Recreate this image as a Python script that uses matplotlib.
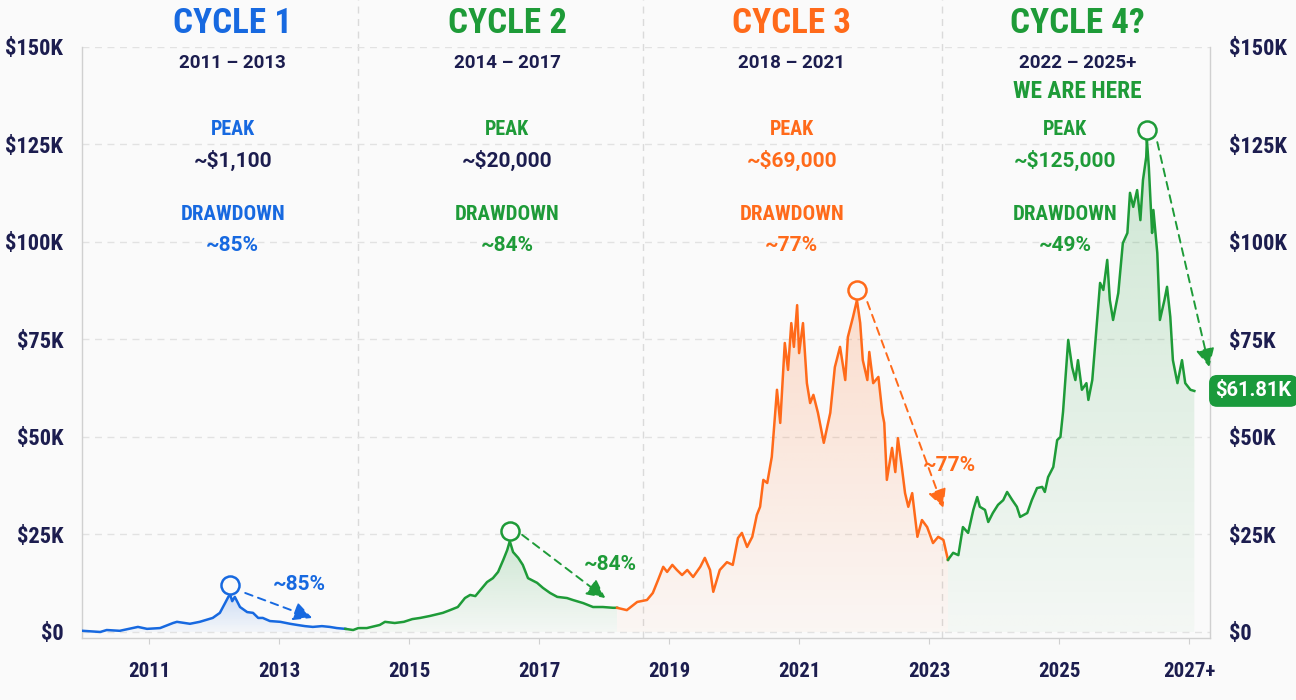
import matplotlib
matplotlib.use("Agg")
import matplotlib.pyplot as plt
import matplotlib.transforms as mtransforms
from matplotlib import font_manager
from matplotlib.colors import to_rgb
import numpy as np

    #========= DATA (price in $K, time in decimal years) =================#

CYCLE1_YEARS = [2009.98, 2010.25, 2010.35, 2010.55, 2010.83, 2010.97, 2011.17, 2011.37, 2011.43,
                2011.63, 2011.78, 2011.98, 2012.09, 2012.17, 2012.22, 2012.25, 2012.28, 2012.32,
                2012.40, 2012.51, 2012.60, 2012.68, 2012.75, 2012.86, 2013.02, 2013.17, 2013.28,
                2013.40, 2013.52, 2013.66, 2013.78, 2013.89, 2014.02]
CYCLE1_PRICES = [0.3, 0.0, 0.5, 0.3, 1.3, 0.8, 1.0, 2.3, 2.6, 2.1, 2.6, 3.6, 4.9, 7.4, 9.0, 9.5,
                 7.9, 9.0, 6.4, 5.1, 4.9, 3.6, 3.6, 2.8, 2.6, 2.1, 1.8, 1.5, 1.3, 1.5, 1.3, 1.0, 0.8]

CYCLE2_YEARS = [2014.02, 2014.14, 2014.22, 2014.35, 2014.55, 2014.63, 2014.78, 2014.92, 2015.05,
                2015.17, 2015.32, 2015.52, 2015.63, 2015.75, 2015.86, 2015.94, 2016.02, 2016.11,
                2016.20, 2016.29, 2016.37, 2016.45, 2016.51, 2016.55, 2016.60, 2016.68, 2016.75,
                2016.83, 2016.97, 2017.06, 2017.17, 2017.28, 2017.43, 2017.52, 2017.68, 2017.83,
                2017.98, 2018.14, 2018.20]
CYCLE2_PRICES = [0.8, 0.5, 1.0, 1.0, 1.8, 2.6, 2.3, 2.6, 3.3, 3.6, 4.1, 4.9, 5.6, 6.4, 8.7, 9.5,
                 9.2, 11.0, 12.8, 13.8, 15.4, 18.5, 21.0, 23.3, 20.5, 19.0, 17.2, 13.8, 12.6, 11.3,
                 10.0, 9.0, 8.7, 8.2, 7.4, 6.4, 6.4, 6.2, 6.2]

CYCLE3_YEARS = [2018.20, 2018.35, 2018.51, 2018.66, 2018.75, 2018.83, 2018.91, 2018.97, 2019.05,
                2019.12, 2019.20, 2019.28, 2019.37, 2019.48, 2019.55, 2019.63, 2019.68, 2019.78,
                2019.89, 2019.98, 2020.06, 2020.12, 2020.20, 2020.28, 2020.35, 2020.40, 2020.45,
                2020.51, 2020.58, 2020.66, 2020.71, 2020.78, 2020.83, 2020.88, 2020.92, 2020.97,
                2021.00, 2021.06, 2021.12, 2021.17, 2021.22, 2021.29, 2021.38, 2021.48, 2021.55,
                2021.63, 2021.71, 2021.75, 2021.83, 2021.89, 2021.94, 2021.98, 2022.05, 2022.08,
                2022.14, 2022.22, 2022.28, 2022.31, 2022.35, 2022.43, 2022.48, 2022.52, 2022.58,
                2022.63, 2022.68, 2022.74, 2022.82, 2022.89, 2022.97, 2023.06, 2023.14, 2023.22,
                2023.29]
CYCLE3_PRICES = [6.2, 5.6, 7.7, 8.2, 10.0, 13.3, 16.7, 15.4, 17.2, 15.9, 14.6, 15.9, 14.1, 16.7,
                 19.0, 15.9, 10.3, 15.9, 17.9, 17.2, 24.1, 25.4, 21.8, 24.4, 30.0, 32.1, 39.0, 38.2,
                 44.9, 62.1, 53.6, 74.1, 67.2, 79.2, 73.1, 83.8, 71.5, 79.2, 63.8, 58.7, 60.8, 56.2,
                 48.5, 56.2, 67.9, 73.1, 64.6, 75.6, 80.8, 85.1, 79.2, 69.7, 64.6, 71.8, 63.8, 65.4,
                 56.2, 53.6, 39.0, 47.2, 41.0, 49.7, 42.3, 35.6, 32.1, 35.6, 24.4, 28.7, 26.9, 22.8,
                 24.4, 23.6, 18.5]

CYCLE4_YEARS = [2023.29, 2023.37, 2023.45, 2023.52, 2023.60, 2023.68, 2023.74, 2023.78, 2023.86,
                2023.91, 2023.98, 2024.06, 2024.14, 2024.20, 2024.28, 2024.35, 2024.40, 2024.51,
                2024.58, 2024.66, 2024.74, 2024.78, 2024.83, 2024.91, 2024.97, 2025.02, 2025.06,
                2025.14, 2025.20, 2025.25, 2025.29, 2025.35, 2025.42, 2025.45, 2025.51, 2025.55,
                2025.63, 2025.68, 2025.74, 2025.78, 2025.83, 2025.91, 2025.98, 2026.05, 2026.09,
                2026.14, 2026.20, 2026.25, 2026.29, 2026.34, 2026.35, 2026.38, 2026.43, 2026.45,
                2026.51, 2026.55, 2026.62, 2026.66, 2026.71, 2026.75, 2026.82, 2026.89, 2026.94,
                2027.02, 2027.08]
CYCLE4_PRICES = [18.5, 20.3, 19.7, 26.9, 25.4, 31.3, 34.6, 32.1, 31.3, 28.2, 30.5, 32.6, 33.8,
                 35.9, 33.8, 32.1, 29.5, 30.5, 33.8, 36.9, 37.2, 35.9, 39.7, 42.3, 49.2, 50.0, 56.4,
                 74.9, 67.9, 64.6, 69.7, 62.1, 63.8, 59.5, 64.6, 72.8, 89.5, 87.7, 95.4, 85.1, 80.0,
                 86.9, 99.7, 102.3, 112.6, 109.0, 113.3, 105.6, 115.9, 121.8, 126.2, 119.2, 102.3,
                 108.2, 97.2, 80.0, 85.1, 88.5, 80.8, 69.7, 63.8, 69.7, 63.8, 62.1, 61.8]

CYCLE_NAMES = ["CYCLE 1", "CYCLE 2", "CYCLE 3", "CYCLE 4?"]
CYCLE_SPANS = ["2011 – 2013", "2014 – 2017", "2018 – 2021", "2022 – 2025+"]
PEAK_LABELS = ["~$1,100", "~$20,000", "~$69,000", "~$125,000"]
DRAWDOWN_LABELS = ["~85%", "~84%", "~77%", "~49%"]
CYCLE_DIVIDERS = [2014.22, 2018.60, 2023.20]
LAST_PRICE = 61.81

Y_TICKS = [0, 25, 50, 75, 100, 125, 150]
Y_LABELS = ["$0", "$25K", "$50K", "$75K", "$100K", "$125K", "$150K"]
X_TICKS = [2011, 2013, 2015, 2017, 2019, 2021, 2023, 2025, 2027]
X_LABELS = ["2011", "2013", "2015", "2017", "2019", "2021", "2023", "2025", "2027+"]

    #========= STYLE =====================================================#

BLUE = "#1769e0"
GREEN = "#1e9b38"
ORANGE = "#ff6a1a"
NAVY = "#1c1d4f"
BG = "#fafafa"
ROUND = ["Roboto", "DejaVu Sans"]

# use a condensed face for the headings when one is installed
installed = {f.name for f in font_manager.fontManager.ttflist}
COND = ROUND
cond_scale = 1.0
for name in ["Roboto Condensed", "Liberation Sans Narrow", "Open Sans Condensed", "Arial Narrow"]:
    if name in installed:
        COND = [name, "DejaVu Sans"]
        cond_scale = 1.2
        break

    #========= FIGURE ====================================================#

fig = plt.figure(figsize=(12.96, 7.0), dpi=100, facecolor=BG)
ax = fig.add_axes([0.0633, 0.0886, 0.8703, 0.8443], facecolor=BG)

def gradient_fill(xs, ys, color):
    poly = ax.fill_between(xs, ys, 0, color="none", lw=0)
    r, g, b = to_rgb(color)
    a = np.linspace(0.03, 0.20, 120).reshape(-1, 1)
    img = np.dstack([np.full_like(a, r), np.full_like(a, g), np.full_like(a, b), a])
    im = ax.imshow(img, extent=[min(xs), max(xs), 0, max(ys)], origin="lower",
                   aspect="auto", zorder=1, interpolation="bilinear")
    im.set_clip_path(poly.get_paths()[0], transform=ax.transData)

segments = [(CYCLE1_YEARS, CYCLE1_PRICES, BLUE),
            (CYCLE2_YEARS, CYCLE2_PRICES, GREEN),
            (CYCLE3_YEARS, CYCLE3_PRICES, ORANGE),
            (CYCLE4_YEARS, CYCLE4_PRICES, GREEN)]

lifted = mtransforms.offset_copy(ax.transData, fig=fig, y=10, units="dots")
for xs, ys, c in segments:
    gradient_fill(xs, ys, c)
    ax.plot(xs, ys, color=c, lw=1.8, zorder=3, solid_joinstyle="round")
    i = int(np.argmax(ys))
    ax.plot(xs[i], ys[i], "o", ms=13, mfc=BG, mec=c, mew=1.8, zorder=5, transform=lifted)

ax.set_xlim(2009.97, 2027.32)
ax.set_ylim(-1.54, 150)

# grid, spines, dividers
ax.set_yticks(Y_TICKS)
ax.set_yticklabels(Y_LABELS)
ax.set_xticks(X_TICKS)
ax.set_xticklabels(X_LABELS)
ax.grid(axis="y", color="#e2e2e2", lw=1, linestyle=(0, (5, 4)), zorder=0)
ax.set_axisbelow(True)
for side in ["left", "bottom", "right"]:
    ax.spines[side].set_color("#d0d0d0")
    ax.spines[side].set_linewidth(1)
ax.spines["top"].set_visible(False)
for d in CYCLE_DIVIDERS:
    ax.axvline(d, ymin=0, ymax=1.08, color="#dadada", lw=1, linestyle=(0, (5, 4)),
               clip_on=False, zorder=0)

ax.tick_params(axis="y", left=False, right=False, labelleft=True, labelright=True,
               pad=10, labelsize=13.5 * cond_scale, labelcolor=NAVY)
ax.tick_params(axis="x", length=4, color="#d0d0d0", pad=13, labelsize=12.5 * cond_scale,
               labelcolor=NAVY)
for lbl in ax.get_xticklabels():
    lbl.set_family(COND)
    lbl.set_fontweight("bold")
for t in ax.yaxis.get_major_ticks():
    for lbl in (t.label1, t.label2):
        lbl.set_family(COND)
        lbl.set_fontweight("bold")

# cycle header text
tx = ax.get_xaxis_transform()
cols = [BLUE, GREEN, ORANGE, GREEN]
peak_cols = [NAVY, NAVY, ORANGE, GREEN]
head_x = [2012.29, 2016.51, 2020.89, 2025.28]
info_x = [2012.29, 2016.51, 2020.89, 2025.09]
for k in range(4):
    ax.text(head_x[k], 1.040, CYCLE_NAMES[k], transform=tx, ha="center", va="center",
            color=cols[k], fontsize=21 * cond_scale, fontweight="bold", family=COND)
    ax.text(head_x[k], 0.973, CYCLE_SPANS[k], transform=tx, ha="center", va="center",
            color=NAVY, fontsize=13.5, fontweight="bold", family=ROUND)
    ax.text(info_x[k], 0.8596, "PEAK", transform=tx, ha="center", va="center",
            color=cols[k], fontsize=12 * cond_scale, fontweight="bold", family=COND)
    ax.text(info_x[k], 0.8088, PEAK_LABELS[k], transform=tx, ha="center", va="center",
            color=peak_cols[k], fontsize=15, fontweight="bold", family=ROUND)
    ax.text(info_x[k], 0.7157, "DRAWDOWN", transform=tx, ha="center", va="center",
            color=cols[k], fontsize=12.5 * cond_scale, fontweight="bold", family=COND)
    ax.text(info_x[k], 0.6633, DRAWDOWN_LABELS[k], transform=tx, ha="center", va="center",
            color=cols[k], fontsize=15, fontweight="bold", family=ROUND)
ax.text(head_x[3], 0.924, "WE ARE HERE", transform=tx, ha="center", va="center",
        color=GREEN, fontsize=14 * cond_scale, fontweight="bold", family=COND)

# drawdown arrows
arrows = [((2012.48, 10.0), (2013.51, 3.6), BLUE),
          ((2016.74, 24.9), (2018.02, 8.7), GREEN),
          ((2022.05, 84.6), (2023.22, 31.8), ORANGE),
          ((2026.51, 125.6), (2027.31, 67.9), GREEN)]
for start, end, c in arrows:
    ax.annotate("", xy=end, xytext=start, zorder=4, annotation_clip=False,
                arrowprops=dict(arrowstyle="-|>,head_length=0.7,head_width=0.35", color=c,
                                lw=1.4, linestyle=(0, (4, 3)), shrinkA=0, shrinkB=0,
                                mutation_scale=16))
ax.text(2013.32, 12.1, DRAWDOWN_LABELS[0], color=BLUE, fontsize=15, fontweight="bold",
        family=ROUND, ha="center", va="center", zorder=6)
ax.text(2018.09, 17.2, DRAWDOWN_LABELS[1], color=GREEN, fontsize=15, fontweight="bold",
        family=ROUND, ha="center", va="center", zorder=6)
ax.text(2023.32, 42.8, DRAWDOWN_LABELS[2], color=ORANGE, fontsize=15, fontweight="bold",
        family=ROUND, ha="center", va="center", zorder=6)

# current price badge
ax.annotate("$%.2fK" % LAST_PRICE, xy=(1.0, LAST_PRICE), xycoords=ax.get_yaxis_transform(),
            xytext=(4, 0), textcoords="offset points", ha="left", va="center",
            color="white", fontsize=14.5, fontweight="bold", family=ROUND, zorder=7,
            bbox=dict(boxstyle="round,pad=0.32,rounding_size=0.4", fc="#1a9a3c", ec="none"),
            annotation_clip=False)

fig.savefig("out.png", dpi=100, facecolor=BG)
